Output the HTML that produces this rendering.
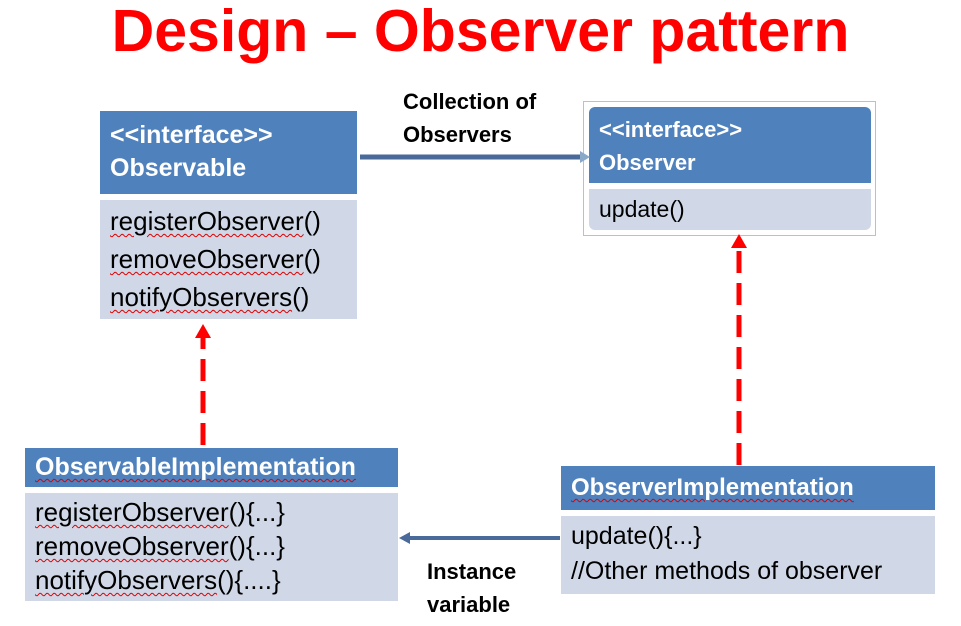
<!DOCTYPE html>
<html><head><style>
body{margin:0;width:961px;height:626px;background:#fff;position:relative;overflow:hidden;font-family:"Liberation Sans",sans-serif}
div{position:absolute;box-sizing:border-box;white-space:nowrap}
.h{background:#4f81bd;color:#fff;font-weight:bold}
.b{background:#d0d8e8;color:#000;font-size:26px;line-height:38px}
.u{text-decoration:underline wavy #d00;text-decoration-thickness:1px;text-underline-offset:3px}
</style></head><body>
<div style="left:0;top:-4px;width:961px;text-align:center;color:#f00;font-weight:bold;font-size:59px;line-height:70px">Design – Observer pattern</div>

<div class="h" style="left:100px;top:111px;width:257px;height:83px;padding:8px 10px;font-size:25px;line-height:33px">&lt;&lt;interface&gt;&gt;<br>Observable</div>
<div class="b" style="left:100px;top:200px;width:257px;height:119px;padding:2px 10px"><span class="u">registerObserver</span>()<br><span class="u">removeObserver</span>()<br><span class="u">notifyObservers</span>()</div>

<div style="left:583px;top:101px;width:293px;height:135px;border:1px solid #a8c8d8"></div>
<div class="h" style="left:589px;top:107px;width:282px;height:76px;padding:6px 10px;font-size:22px;line-height:33px;border-radius:6px 6px 0 0">&lt;&lt;interface&gt;&gt;<br>Observer</div>
<div class="b" style="left:589px;top:189px;width:282px;height:41px;padding:1px 10px;border-radius:0 0 6px 6px;font-size:23px">update()</div>

<div class="h" style="left:25px;top:448px;width:373px;height:39px;padding:4px 10px;font-size:25px;line-height:30px"><span class="u">ObservableImplementation</span></div>
<div class="b" style="left:25px;top:493px;width:373px;height:108px;padding:2px 10px;line-height:34px;font-size:26px"><span class="u">registerObserver</span>(){...}<br><span class="u">removeObserver</span>(){...}<br><span class="u">notifyObservers</span>(){....}</div>

<div class="h" style="left:561px;top:466px;width:374px;height:44px;padding:7px 10px;font-size:24px;line-height:30px"><span class="u">ObserverImplementation</span></div>
<div class="b" style="left:561px;top:516px;width:374px;height:78px;padding:3px 10px;line-height:35px;font-size:25px">update(){...}<br>//Other methods of observer</div>

<div style="left:403px;top:85px;font-weight:bold;font-size:22px;line-height:33px">Collection of<br>Observers</div>
<div style="left:427px;top:555px;font-weight:bold;font-size:22px;line-height:33px">Instance<br>variable</div>

<svg width="961" height="626" style="position:absolute;left:0;top:0">
<line x1="360" y1="157" x2="580" y2="157" stroke="#4a6a9a" stroke-width="5"/>
<polygon points="580,151 590,157 580,163" fill="#8aa8c8"/>
<line x1="560" y1="538" x2="410" y2="538" stroke="#4a6a9a" stroke-width="4"/>
<polygon points="410,532 399,538 410,544" fill="#4a6a9a"/>
<line x1="739" y1="465" x2="739" y2="248" stroke="#f00" stroke-width="5" stroke-dasharray="22,10"/>
<polygon points="731,248 739,234 747,248" fill="#f00"/>
<line x1="203" y1="445" x2="203" y2="338" stroke="#f00" stroke-width="5" stroke-dasharray="22,10"/>
<polygon points="195,338 203,324 211,338" fill="#f00"/>
</svg>
</body></html>
